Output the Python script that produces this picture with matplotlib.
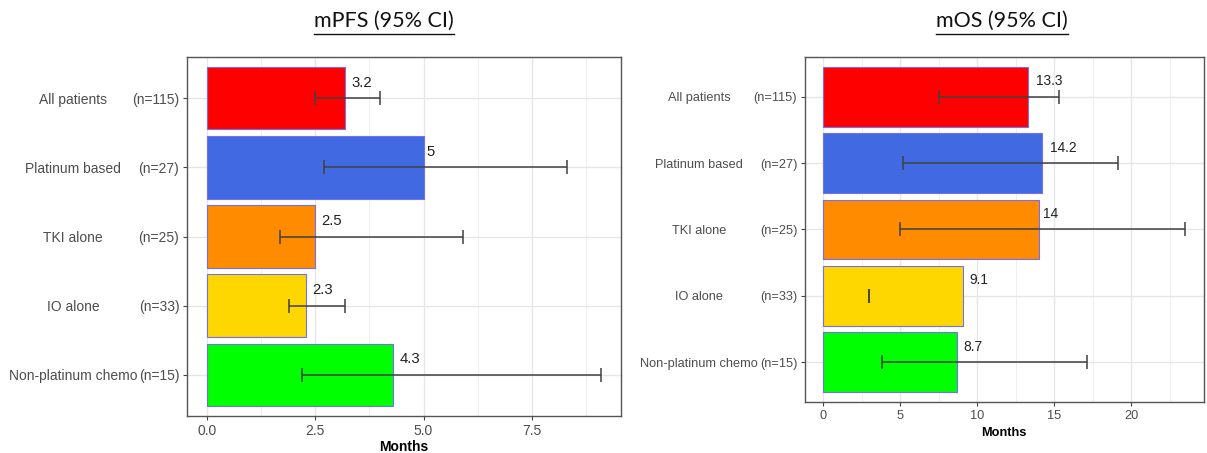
import numpy as np
import matplotlib
matplotlib.use("Agg")
import matplotlib.pyplot as plt
import matplotlib.transforms as mtransforms
from matplotlib.ticker import MultipleLocator

# ---------------- data ----------------
groups = ["All patients", "Platinum based", "TKI alone", "IO alone", "Non-platinum chemo"]
n_labels = ["(n=115)", "(n=27)", "(n=25)", "(n=33)", "(n=15)"]
colors = ["#FF0000", "#4169E1", "#FF8C00", "#FFD700", "#00FF00"]

pfs_median = [3.2, 5.0, 2.5, 2.3, 4.3]
pfs_lower = [2.5, 2.7, 1.7, 1.9, 2.2]
pfs_upper = [4.0, 8.3, 5.9, 3.2, 9.1]
pfs_labels = ["3.2", "5", "2.5", "2.3", "4.3"]

os_median = [13.3, 14.2, 14.0, 9.1, 8.7]
os_lower = [7.5, 5.2, 5.0, 3.0, 3.8]
os_upper = [15.3, 19.1, 23.5, np.nan, 17.1]   # upper limit not reached for IO alone
os_labels = ["13.3", "14.2", "14", "9.1", "8.7"]

pfs_ticks = [0.0, 2.5, 5.0, 7.5]
pfs_ticklabels = ["0.0", "2.5", "5.0", "7.5"]
os_ticks = [0, 5, 10, 15, 20]
os_ticklabels = ["0", "5", "10", "15", "20"]

W, H = 1207, 453
DPI = 100
plt.rcParams['font.family'] = ['Liberation Sans', 'DejaVu Sans']
fig = plt.figure(figsize=(W / DPI, H / DPI), dpi=DPI)
fig.patch.set_facecolor("white")


def px(x0, y_top, x1, y_bot):
    return [x0 / W, 1 - y_bot / H, (x1 - x0) / W, (y_bot - y_top) / H]


def panel(rect, med, lo, hi, labs, ticks, ticklabels, minor, fs, name_x, title, title_x, lpad):
    ax = fig.add_axes(rect)
    y = np.arange(len(groups))
    lo_a = np.array(lo, dtype=float)
    hi_a = np.array(hi, dtype=float)
    hi_draw = np.where(np.isnan(hi_a), lo_a, hi_a)
    xmax = np.nanmax(hi_a)
    ax.set_xlim(-0.05 * xmax, xmax * 1.05)
    ax.set_ylim(len(groups) - 0.4, -0.6)

    ax.set_axisbelow(True)
    ax.xaxis.set_minor_locator(MultipleLocator(minor))
    ax.set_xticks(ticks)
    ax.set_xticklabels(ticklabels)
    ax.grid(True, which="major", axis="both", color="#E6E6E6", lw=1.0)
    ax.grid(True, which="minor", axis="x", color="#EFEFEF", lw=0.7)

    ax.barh(y, med, height=0.9, color=colors, edgecolor="#7070F0", linewidth=0.8, zorder=2)

    mid = (lo_a + hi_draw) / 2
    half = (hi_draw - lo_a) / 2
    ax.errorbar(mid, y, xerr=half, fmt="none", ecolor="#404040", elinewidth=1.1,
                capsize=4.8, capthick=1.1, zorder=3)

    renderer = fig.canvas.get_renderer()
    for yi, v, s in zip(y, med, labs):
        t = ax.text(v, yi, s, ha="left", va="center", fontsize=fs + 0.7,
                    color="#222222", zorder=4)
        w = t.get_window_extent(renderer).width
        t.set_transform(ax.transData + mtransforms.ScaledTranslation(
            0.3 * w / DPI, 15.5 / DPI, fig.dpi_scale_trans))

    ax.set_yticks(y)
    ax.set_yticklabels(n_labels)
    ax.tick_params(axis="both", which="major", length=3.0, width=0.8,
                   color="#444444", labelcolor="#4D4D4D", labelsize=fs, pad=2.5)
    ax.tick_params(axis="both", which="minor", length=0)
    for sp in ax.spines.values():
        sp.set_color("#555555")
        sp.set_linewidth(1.0)

    ax.set_xlabel("Months", fontweight="bold", fontsize=fs, labelpad=lpad, color="black")

    tr = mtransforms.blended_transform_factory(fig.transFigure, ax.transData)
    for yi, g in zip(y, groups):
        fig.text(name_x / W, yi, g, transform=tr, ha="center", va="center_baseline",
                 fontsize=fs, color="#4D4D4D")

    tt = fig.text(title_x / W, 1 - 21 / H, title, ha="center", va="center",
                  fontsize=15.5, family=["Lato", "DejaVu Sans"], color="#111111")
    bb = tt.get_window_extent(renderer)
    yline = 1 - 33.5 / H
    fig.add_artist(plt.Line2D([bb.x0 / W, bb.x1 / W], [yline, yline],
                              transform=fig.transFigure, color="#111111", lw=1.0))
    return ax


panel(px(187, 57, 621, 416), pfs_median, pfs_lower, pfs_upper, pfs_labels,
      pfs_ticks, pfs_ticklabels, 1.25, 10.0, 73, "mPFS (95% CI)", 384, 1.5)
panel(px(805, 57, 1203.5, 402), os_median, os_lower, os_upper, os_labels,
      os_ticks, os_ticklabels, 2.5, 9.2, 699, "mOS (95% CI)", 1002, 3.5)

fig.savefig("out.png", dpi=DPI)
